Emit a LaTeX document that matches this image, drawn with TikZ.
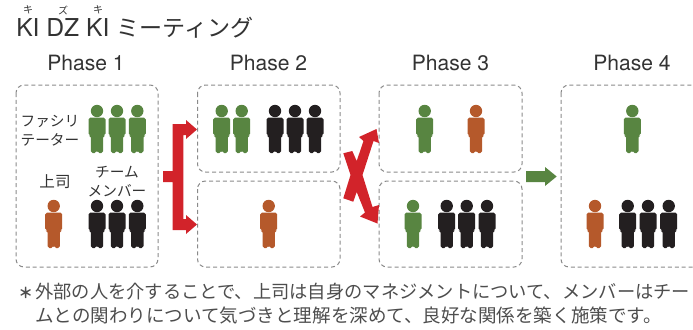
\documentclass[tikz,border=0pt]{standalone}
\usepackage{fontspec}
\setmainfont{TeX Gyre Heros}
\newfontfamily\jp{Noto Sans CJK JP}
\definecolor{pgreen}{HTML}{588541}
\definecolor{pbrown}{HTML}{B5592B}
\definecolor{pblack}{HTML}{231F20}
\definecolor{pred}{HTML}{D2232A}
\definecolor{ink}{HTML}{333333}
\definecolor{note}{HTML}{4D4D4D}
\definecolor{dash}{HTML}{8A8A8A}
\tikzset{
  x=0.75pt,y=-0.75pt,
  frame/.style={draw=dash,line width=0.75pt,dash pattern=on 3pt off 2.2pt,rounded corners=6pt},
  person/.pic={
    \fill[pic actions] (0,6) circle (6.2);
    \fill[pic actions,rounded corners=1.4] (-8.5,12.5) -- (8.5,12.5) -- (8.5,30.5) -- (6.2,30.5) -- (6.2,48) -- (0.5,48) -- (0.5,45) -- (-0.5,45) -- (-0.5,48) -- (-6.2,48) -- (-6.2,30.5) -- (-8.5,30.5) -- cycle;
  },
  phase/.style={font=\fontsize{15.8pt}{18pt}\selectfont,text=ink,inner sep=0pt,anchor=center},
  title/.style={font=\fontsize{18.5pt}{20pt}\selectfont,text=ink,inner sep=0pt,anchor=base west},
  ruby/.style={font=\jp\fontsize{7.5pt}{8pt}\selectfont,text=ink,inner sep=0pt},
  lab/.style={font=\jp\fontsize{11pt}{14.2pt}\selectfont,text=ink,inner sep=0pt,align=center},
  notetext/.style={font=\jp\fontsize{13.7pt}{16pt}\selectfont,text=note,inner sep=0pt,anchor=base west},
}
\begin{document}
\begin{tikzpicture}
\useasboundingbox (0,0) rectangle (693,329);
\clip (0,0) rectangle (693,329);
% title
\node[title] (tt) at (16,36) {KI DZ KI {\jp\fontsize{17.3pt}{20pt}\selectfont ミーティング}};
\node[ruby] (r1) at (28,10) {キ};
\node[ruby] (r2) at (63,10) {ズ};
\node[ruby] (r3) at (98,10) {キ};
% phases
\node[phase] (p1) at (86,63) {Phase 1};
\node[phase] (p2) at (268.5,63) {Phase 2};
\node[phase] (p3) at (450.5,63) {Phase 3};
\node[phase] (p4) at (632,63) {Phase 4};
% frames
\draw[frame] (16,85) rectangle (158,267);
\draw[frame] (197.5,85) rectangle (340,172);
\draw[frame] (197.5,181) rectangle (340,267);
\draw[frame] (379,85) rectangle (522,172);
\draw[frame] (379,181) rectangle (522,267);
\draw[frame] (561,85) rectangle (703,267);
% labels
\node[lab] (l1) at (50,131) {ファシリ\\テーター};
\node[lab,font=\jp\fontsize{11.7pt}{14.2pt}\selectfont] (l2) at (55,182) {上司};
\node[lab] (l3) at (117,181.5) {チーム\\メンバー};
% people
\foreach \x in {97,117,137.3} \pic[fill=pgreen] at (\x,105) {person};
\foreach \x in {221.7,241.7} \pic[fill=pgreen] at (\x,105) {person};
\foreach \x in {275,295,315} \pic[fill=pblack] at (\x,105) {person};
\pic[fill=pbrown] at (53.7,200) {person};
\foreach \x in {97,117,137.3} \pic[fill=pblack] at (\x,200) {person};
\pic[fill=pbrown] at (268.7,200) {person};
\pic[fill=pgreen] at (424.7,105) {person};
\pic[fill=pbrown] at (476,105) {person};
\pic[fill=pgreen] at (413,200) {person};
\foreach \x in {446.7,466.7,487} \pic[fill=pblack] at (\x,200) {person};
\pic[fill=pgreen] at (632.3,105) {person};
\pic[fill=pbrown] at (595,200) {person};
\foreach \x in {627.7,648,668.7} \pic[fill=pblack] at (\x,200) {person};
% red fork
\fill[pred] (163,171) -- (172.7,171) -- (172.7,124) -- (186,124) -- (186,120) -- (197,129.5) -- (186,139) -- (186,135) -- (183.3,135) -- (183.3,219) -- (186,219) -- (186,215) -- (197,224.5) -- (186,234) -- (186,230) -- (172.7,230) -- (172.7,182) -- (163,182) -- cycle;
% red cross
\fill[pred] (343.3,153.3) -- (352.3,151) -- (356.7,161) -- (363.5,141) -- (359,137) -- (376.5,129) -- (379,143) -- (373.5,141) -- (362.5,175) -- (372.5,207) -- (379,205) -- (377.5,223.5) -- (360,216.5) -- (365,212.5) -- (356.7,192) -- (353.3,201.7) -- (343.3,198.3) -- (350.5,175) -- cycle;
% green arrow
\fill[pgreen] (526,171) -- (545,171) -- (545,167) -- (556.7,176.5) -- (545,186) -- (545,182) -- (526,182) -- cycle;
% note
\node[notetext,font=\jp\bfseries\fontsize{11pt}{14pt}\selectfont] (n0) at (18,298) {＊};
\node[notetext] (n1) at (35,298) {外部の人を介することで、上司は自身のマネジメントについて、メンバーはチー};
\node[notetext,font=\jp\fontsize{13.9pt}{16pt}\selectfont] (n2) at (35,322) {ムとの関わりについて気づきと理解を深めて、良好な関係を築く施策です。};
\end{tikzpicture}
\end{document}
